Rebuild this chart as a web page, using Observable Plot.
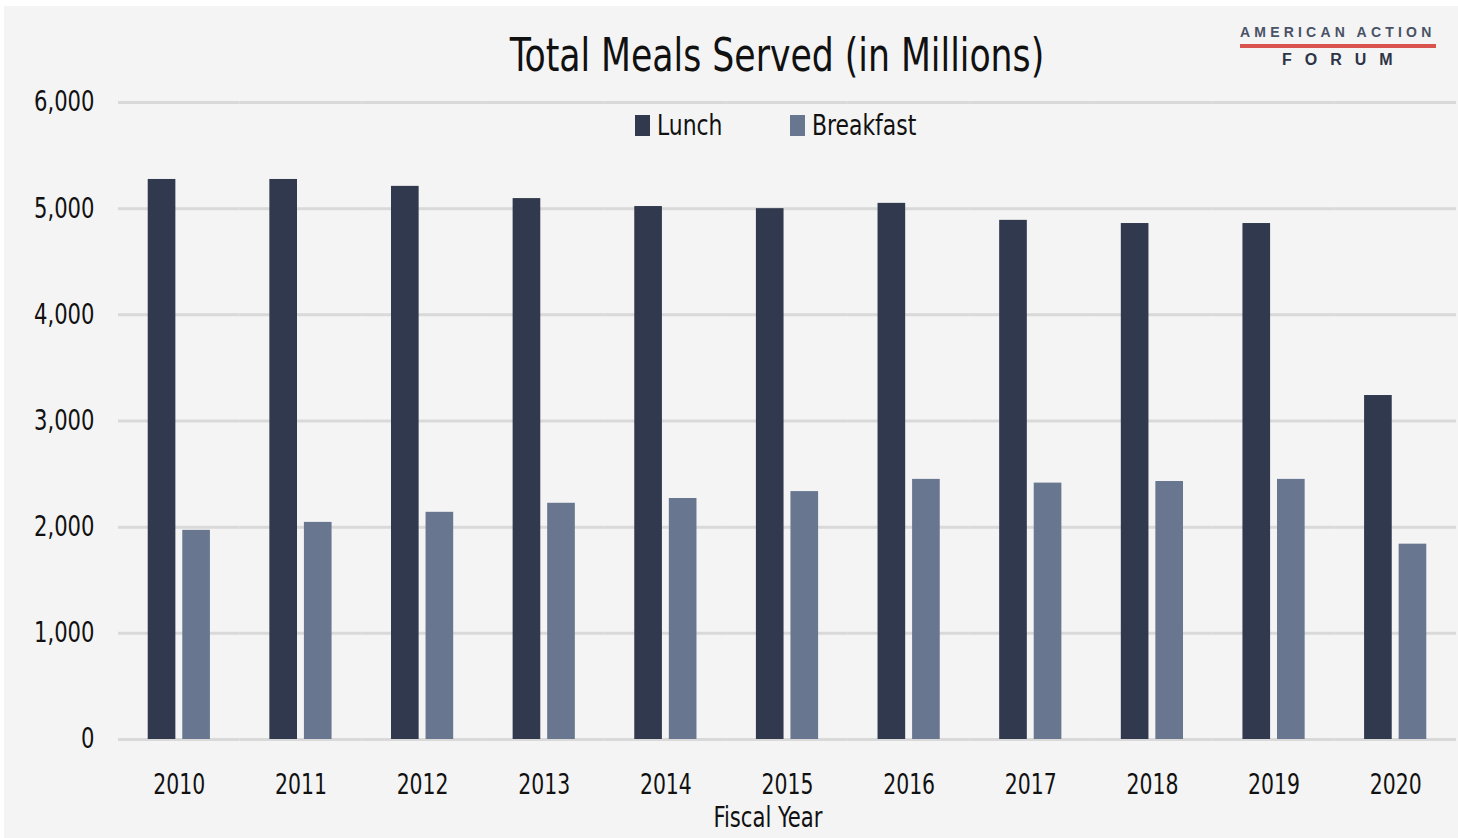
<!DOCTYPE html>
<html><head><meta charset="utf-8">
<script src="https://cdn.jsdelivr.net/npm/d3@7"></script>
<script src="https://cdn.jsdelivr.net/npm/@observablehq/plot@0.6"></script>
<style>
html,body{margin:0;padding:0;background:#fff;width:1458px;height:838px;overflow:hidden;}
#frame{position:absolute;left:4px;top:6px;width:1454px;height:832px;background:#f4f4f4;}
#wrap{position:absolute;left:0;top:0;width:1458px;height:838px;font-family:"Liberation Sans Narrow","DejaVu Sans Condensed","Arial Narrow",sans-serif;color:#111;}
#chart{position:absolute;left:0;top:0;}
#title{position:absolute;left:777px;top:31px;transform:translateX(-50%) scaleX(0.82);font-size:47px;line-height:1;white-space:nowrap;}
#xlabel{position:absolute;left:768px;top:804px;transform:translateX(-50%) scaleX(0.84);font-size:28px;line-height:1;white-space:nowrap;}
#legend{position:absolute;left:635px;top:110px;display:flex;align-items:center;font-size:29px;line-height:30px;}
.item{display:flex;align-items:center;}
.sw{width:15px;height:21px;margin-right:7px;}
.tx{display:inline-block;transform:scaleX(0.84);transform-origin:left center;}
#logo{position:absolute;left:1240px;top:24px;width:196px;font-family:"Liberation Sans","DejaVu Sans",sans-serif;font-weight:bold;}
#l1{font-size:14px;letter-spacing:4.2px;color:#4a5266;line-height:16px;white-space:nowrap;}
#bar{height:4px;background:#d9534f;margin-top:4px;}
#l2{font-size:16px;letter-spacing:13px;color:#2e3447;line-height:18px;margin-top:3px;padding-left:42px;white-space:nowrap;}
</style></head><body>
<div id="frame"></div>
<div id="wrap">
  <div id="chart"></div>
  <div id="title">Total Meals Served (in Millions)</div>
  <div id="legend"></div>
  <div id="xlabel">Fiscal Year</div>
  <div id="logo"><div id="l1">AMERICAN ACTION</div><div id="bar"></div><div id="l2">FORUM</div></div>
</div>
<script>
const years = ["2010","2011","2012","2013","2014","2015","2016","2017","2018","2019","2020"];
const lunch = [5275, 5275, 5210, 5095, 5020, 5000, 5050, 4890, 4860, 4860, 3240];
const breakfast = [1970, 2045, 2140, 2225, 2270, 2335, 2450, 2415, 2430, 2450, 1840];
const series = ["Lunch", "Breakfast"];
const colors = ["#30394d", "#68768f"];
const yTicks = [0, 1000, 2000, 3000, 4000, 5000, 6000];

const rows = [];
years.forEach((yr, i) => {
  rows.push({year: yr, series: "Lunch", value: lunch[i]});
  rows.push({year: yr, series: "Breakfast", value: breakfast[i]});
});

const font = '"Liberation Sans Narrow","DejaVu Sans Condensed","Arial Narrow",sans-serif';
const chart = Plot.plot({
  width: 1458, height: 838,
  marginTop: 102, marginBottom: 99, marginLeft: 118, marginRight: 2,
  style: {background: "transparent", fontFamily: font, fontSize: "28px", color: "#111", overflow: "visible"},
  fx: {domain: years, padding: 0, round: false, label: null, tickSize: 0, tickPadding: 35, axis: "bottom"},
  x: {domain: series, paddingInner: 0.2, paddingOuter: 0.86, round: false, axis: null},
  y: {domain: [0, 6000], ticks: yTicks, tickSize: 0, tickPadding: 24, tickFormat: d3.format(","), label: null},
  color: {domain: series, range: colors},
  marks: [
    Plot.ruleY(yTicks, {stroke: "#d9d9d9", strokeWidth: 3}),
    Plot.barY(rows, {fx: "year", x: "series", y: "value", fill: "series"})
  ]
});
document.getElementById("chart").appendChild(chart);

// condense axis tick labels horizontally around their anchor points
function condense(sel, k) {
  d3.select(chart).selectAll(sel).each(function() {
    const t = d3.select(this);
    const tr = t.attr("transform") || "";
    const xa = t.attr("x"), ya = t.attr("y");
    const xn = xa !== null && isFinite(+xa) ? +xa : null;
    const yn = ya !== null && isFinite(+ya) ? +ya : null;
    let pre = "";
    if (xn !== null || yn !== null) pre = ` translate(${xn || 0},${yn || 0})`;
    if (xn !== null) t.attr("x", null);
    if (yn !== null) t.attr("y", null);
    t.attr("transform", `${tr}${pre} scale(${k},1)`);
  });
}
condense('g[aria-label="y-axis tick label"] text', 0.84);
condense('g[aria-label="fx-axis tick label"] text', 0.81);

const lg = d3.select("#legend");
series.forEach((s, i) => {
  const it = lg.append("div").attr("class", "item").style("margin-right", i === 0 ? "55px" : "0px");
  it.append("div").attr("class", "sw").style("background", colors[i]);
  it.append("span").attr("class", "tx").text(s);
});
</script>
</body></html>
